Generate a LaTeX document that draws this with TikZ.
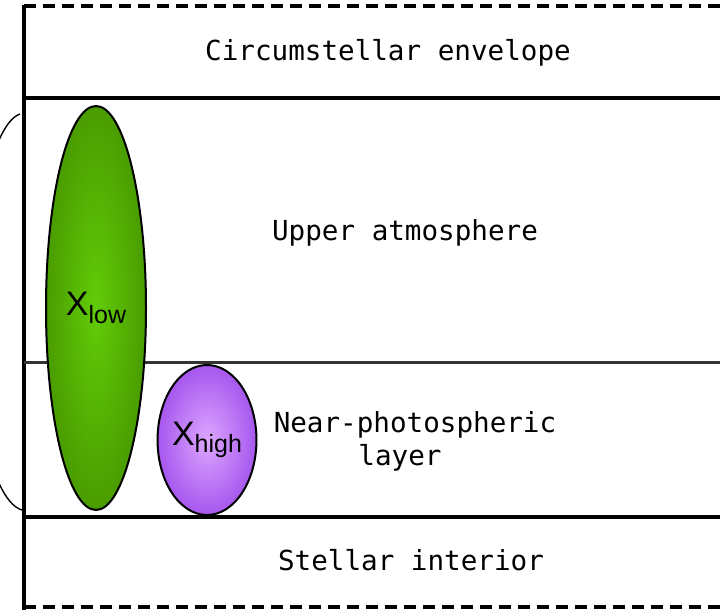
\documentclass[tikz,border=0pt]{standalone}
\usepackage{fontspec}
\setmainfont{Liberation Sans}
\setmonofont{DejaVu Sans Mono}
\usetikzlibrary{shapes.geometric, positioning}
\definecolor{greenin}{HTML}{62CC08}
\definecolor{greenout}{HTML}{4A9C00}
\definecolor{violetin}{HTML}{DDA6FF}
\definecolor{violetout}{HTML}{A657EE}
\tikzset{
	x=1pt, y=-1pt, % one unit is one pixel of the reference, y runs downwards
	boundary/.style={line width=3.2pt}, % heavy layer boundaries
	layertext/.style={font=\fontsize{27.6}{30}\selectfont\ttfamily, anchor=base}, % names of the layers
	species/.style={ellipse, draw, line width=2pt, inner sep=0pt, font=\fontsize{34}{36}\selectfont}, % the two ellipses
}
\newcommand{\spec}[1]{X\raisebox{-0.22em}{\fontsize{25}{27}\selectfont #1}}

\begin{document}
\begin{tikzpicture}
	\useasboundingbox (0,0) rectangle (720,610);
	\begin{scope}
		\clip (0,0) rectangle (720,610);
		% bracket on the left
		\draw[line width=1.4pt] (20,114) .. controls (-12,125) and (-30,250) .. (-30,312)
			.. controls (-30,380) and (-12,500) .. (22,510);
		% frame and layers
		\draw[boundary] (24,5) -- (24,610);
		\draw[boundary, dash pattern=on 12pt off 7pt] (24,6) -- (720,6);
		\draw[boundary, dash pattern=on 12pt off 7pt] (24,607) -- (720,607);
		\draw[boundary] (24,98) -- (720,98);
		\draw[line width=2.8pt, black!80] (24,362.5) -- (720,362.5);
		\draw[boundary] (24,517) -- (720,517);
	\end{scope}
	% species
	\node[species, minimum width=100, minimum height=404, inner color=greenin, outer color=greenout] (xlow) at (96,308) {\spec{low}};
	\node[species, minimum width=92, minimum height=150, inner color=violetin, outer color=violetout] (xhigh) at (207,440) {\spec{high}};
	% layer names
	\node[layertext] (envelope) at (388,61) {Circumstellar envelope};
	\node[layertext] (upper) at (405,240) {Upper atmosphere};
	\node[layertext] (nearphot) at (415,432) {Near-photospheric};
	\node[layertext] (layer) at (400,465) {layer};
	\node[layertext] (interior) at (411,570) {Stellar interior};
\end{tikzpicture}
\end{document}
